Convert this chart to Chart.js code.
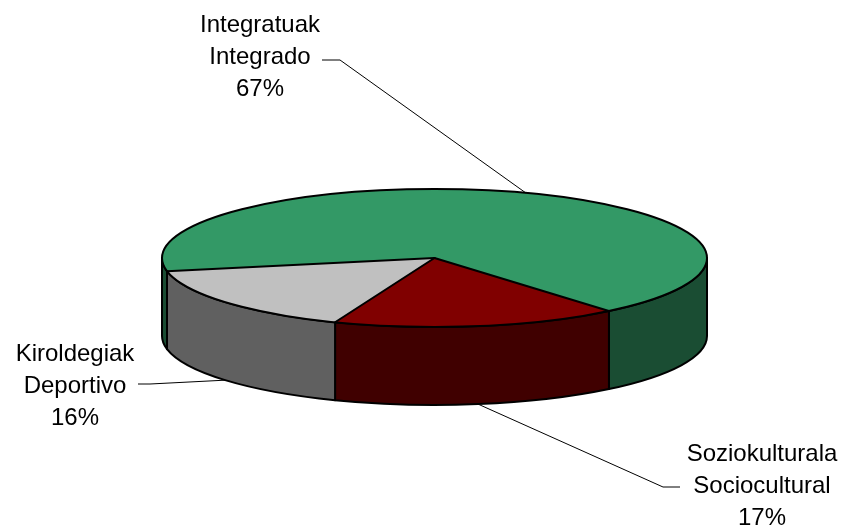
<!DOCTYPE html>
<html>
<head>
<meta charset="utf-8">
<script src="https://cdn.jsdelivr.net/npm/chart.js@4/dist/chart.umd.min.js"></script>
<style>
  html, body { margin: 0; padding: 0; background: #ffffff; }
  #wrap { width: 841px; height: 528px; position: relative; }
</style>
</head>
<body>
<div id="wrap"><canvas id="c"></canvas></div>
<script>
// ---- data ----
const namesEu = ['Integratuak', 'Soziokulturala', 'Kiroldegiak'];
const namesEs = ['Integrado', 'Sociocultural', 'Deportivo'];
const values = [67, 17, 16];
const topColors = ['#339966', '#800000', '#C0C0C0'];
const sideColors = ['#1A4D33', '#400000', '#606060'];

// ---- 3D look (style only) ----
const SX = 1.3625;   // horizontal stretch of the pie
const SY = 0.345;    // vertical squash (tilt)
const DEPTH = 78;    // wall height in px
const FONT = '24px "Liberation Sans", Arial, sans-serif';
const LINE_GAP = 32;

// label layout: centre of the middle text line, and leader path start/elbow
const labelLayout = [
  { x: 260, y: 57, from: [322, 60], elbow: [340, 60] },
  { x: 762, y: 486, from: [680, 487], elbow: [663, 487] },
  { x: 75, y: 386, from: [138, 384], elbow: [150, 384] }
];

function ellPt(cx, cy, rx, ry, t, dy) {
  return [cx + rx * Math.cos(t), cy + ry * Math.sin(t) + (dy || 0)];
}

const pie3d = {
  id: 'pie3d',
  beforeDatasetsDraw(chart) {
    const ctx = chart.ctx;
    const arcs = chart.getDatasetMeta(0).data;
    const cx = arcs[0].x, cy = arcs[0].y, R = arcs[0].outerRadius;
    const rx = R * SX, ry = R * SY;
    ctx.save();
    ctx.lineJoin = 'round';
    ctx.lineWidth = 2;
    ctx.strokeStyle = '#000';
    arcs.forEach((a, i) => {
      const s = a.startAngle, e = a.endAngle;
      for (let k = -2; k <= 2; k++) {
        const lo = Math.max(s, 2 * Math.PI * k);
        const hi = Math.min(e, 2 * Math.PI * k + Math.PI);
        if (hi - lo > 1e-6) {
          ctx.beginPath();
          const p0 = ellPt(cx, cy, rx, ry, lo);
          ctx.moveTo(p0[0], p0[1]);
          ctx.ellipse(cx, cy, rx, ry, 0, lo, hi, false);
          const p1 = ellPt(cx, cy, rx, ry, hi, DEPTH);
          ctx.lineTo(p1[0], p1[1]);
          ctx.ellipse(cx, cy + DEPTH, rx, ry, 0, hi, lo, true);
          ctx.closePath();
          ctx.fillStyle = sideColors[i];
          ctx.fill();
          ctx.stroke();
        }
      }
    });
    ctx.restore();
    // squash the top face drawn by the library
    ctx.save();
    ctx.translate(cx, cy);
    ctx.scale(SX, SY);
    ctx.translate(-cx, -cy);
  },
  afterDatasetsDraw(chart) {
    const ctx = chart.ctx;
    ctx.restore();
    const arcs = chart.getDatasetMeta(0).data;
    const cx = arcs[0].x, cy = arcs[0].y, R = arcs[0].outerRadius;
    const rx = R * SX, ry = R * SY;
    ctx.save();
    ctx.lineJoin = 'round';
    ctx.lineCap = 'round';
    ctx.lineWidth = 2;
    ctx.strokeStyle = '#000';
    ctx.beginPath();
    ctx.ellipse(cx, cy, rx, ry, 0, 0, Math.PI * 2);
    ctx.stroke();
    arcs.forEach(a => {
      const p = ellPt(cx, cy, rx, ry, a.startAngle);
      ctx.beginPath();
      ctx.moveTo(cx, cy);
      ctx.lineTo(p[0], p[1]);
      ctx.stroke();
    });
    // leader lines and labels
    ctx.lineWidth = 1;
    ctx.lineCap = 'butt';
    ctx.font = FONT;
    ctx.fillStyle = '#000';
    ctx.textAlign = 'center';
    ctx.textBaseline = 'middle';
    arcs.forEach((a, i) => {
      const mid = (a.startAngle + a.endAngle) / 2;
      const front = Math.sin(mid) > 0;
      const anchor = ellPt(cx, cy, rx, ry, mid, front ? DEPTH : 0);
      const L = labelLayout[i];
      ctx.beginPath();
      ctx.moveTo(L.from[0], L.from[1]);
      ctx.lineTo(L.elbow[0], L.elbow[1]);
      ctx.lineTo(anchor[0], anchor[1]);
      ctx.stroke();
      const lines = [namesEu[i], namesEs[i], values[i] + '%'];
      lines.forEach((t, j) => {
        ctx.fillText(t, L.x, L.y + (j - 1) * LINE_GAP);
      });
    });
    ctx.restore();
  }
};

new Chart(document.getElementById('c'), {
  type: 'pie',
  data: {
    labels: namesEs,
    datasets: [{
      data: values,
      backgroundColor: topColors,
      borderWidth: 0,
      clip: false
    }]
  },
  options: {
    responsive: true,
    maintainAspectRatio: false,
    animation: false,
    events: [],
    rotation: 259,
    layout: { padding: { left: 234.5, right: 206.5, top: 58, bottom: 70 } },
    plugins: {
      legend: { display: false },
      tooltip: { enabled: false }
    }
  },
  plugins: [pie3d]
});
</script>
</body>
</html>
